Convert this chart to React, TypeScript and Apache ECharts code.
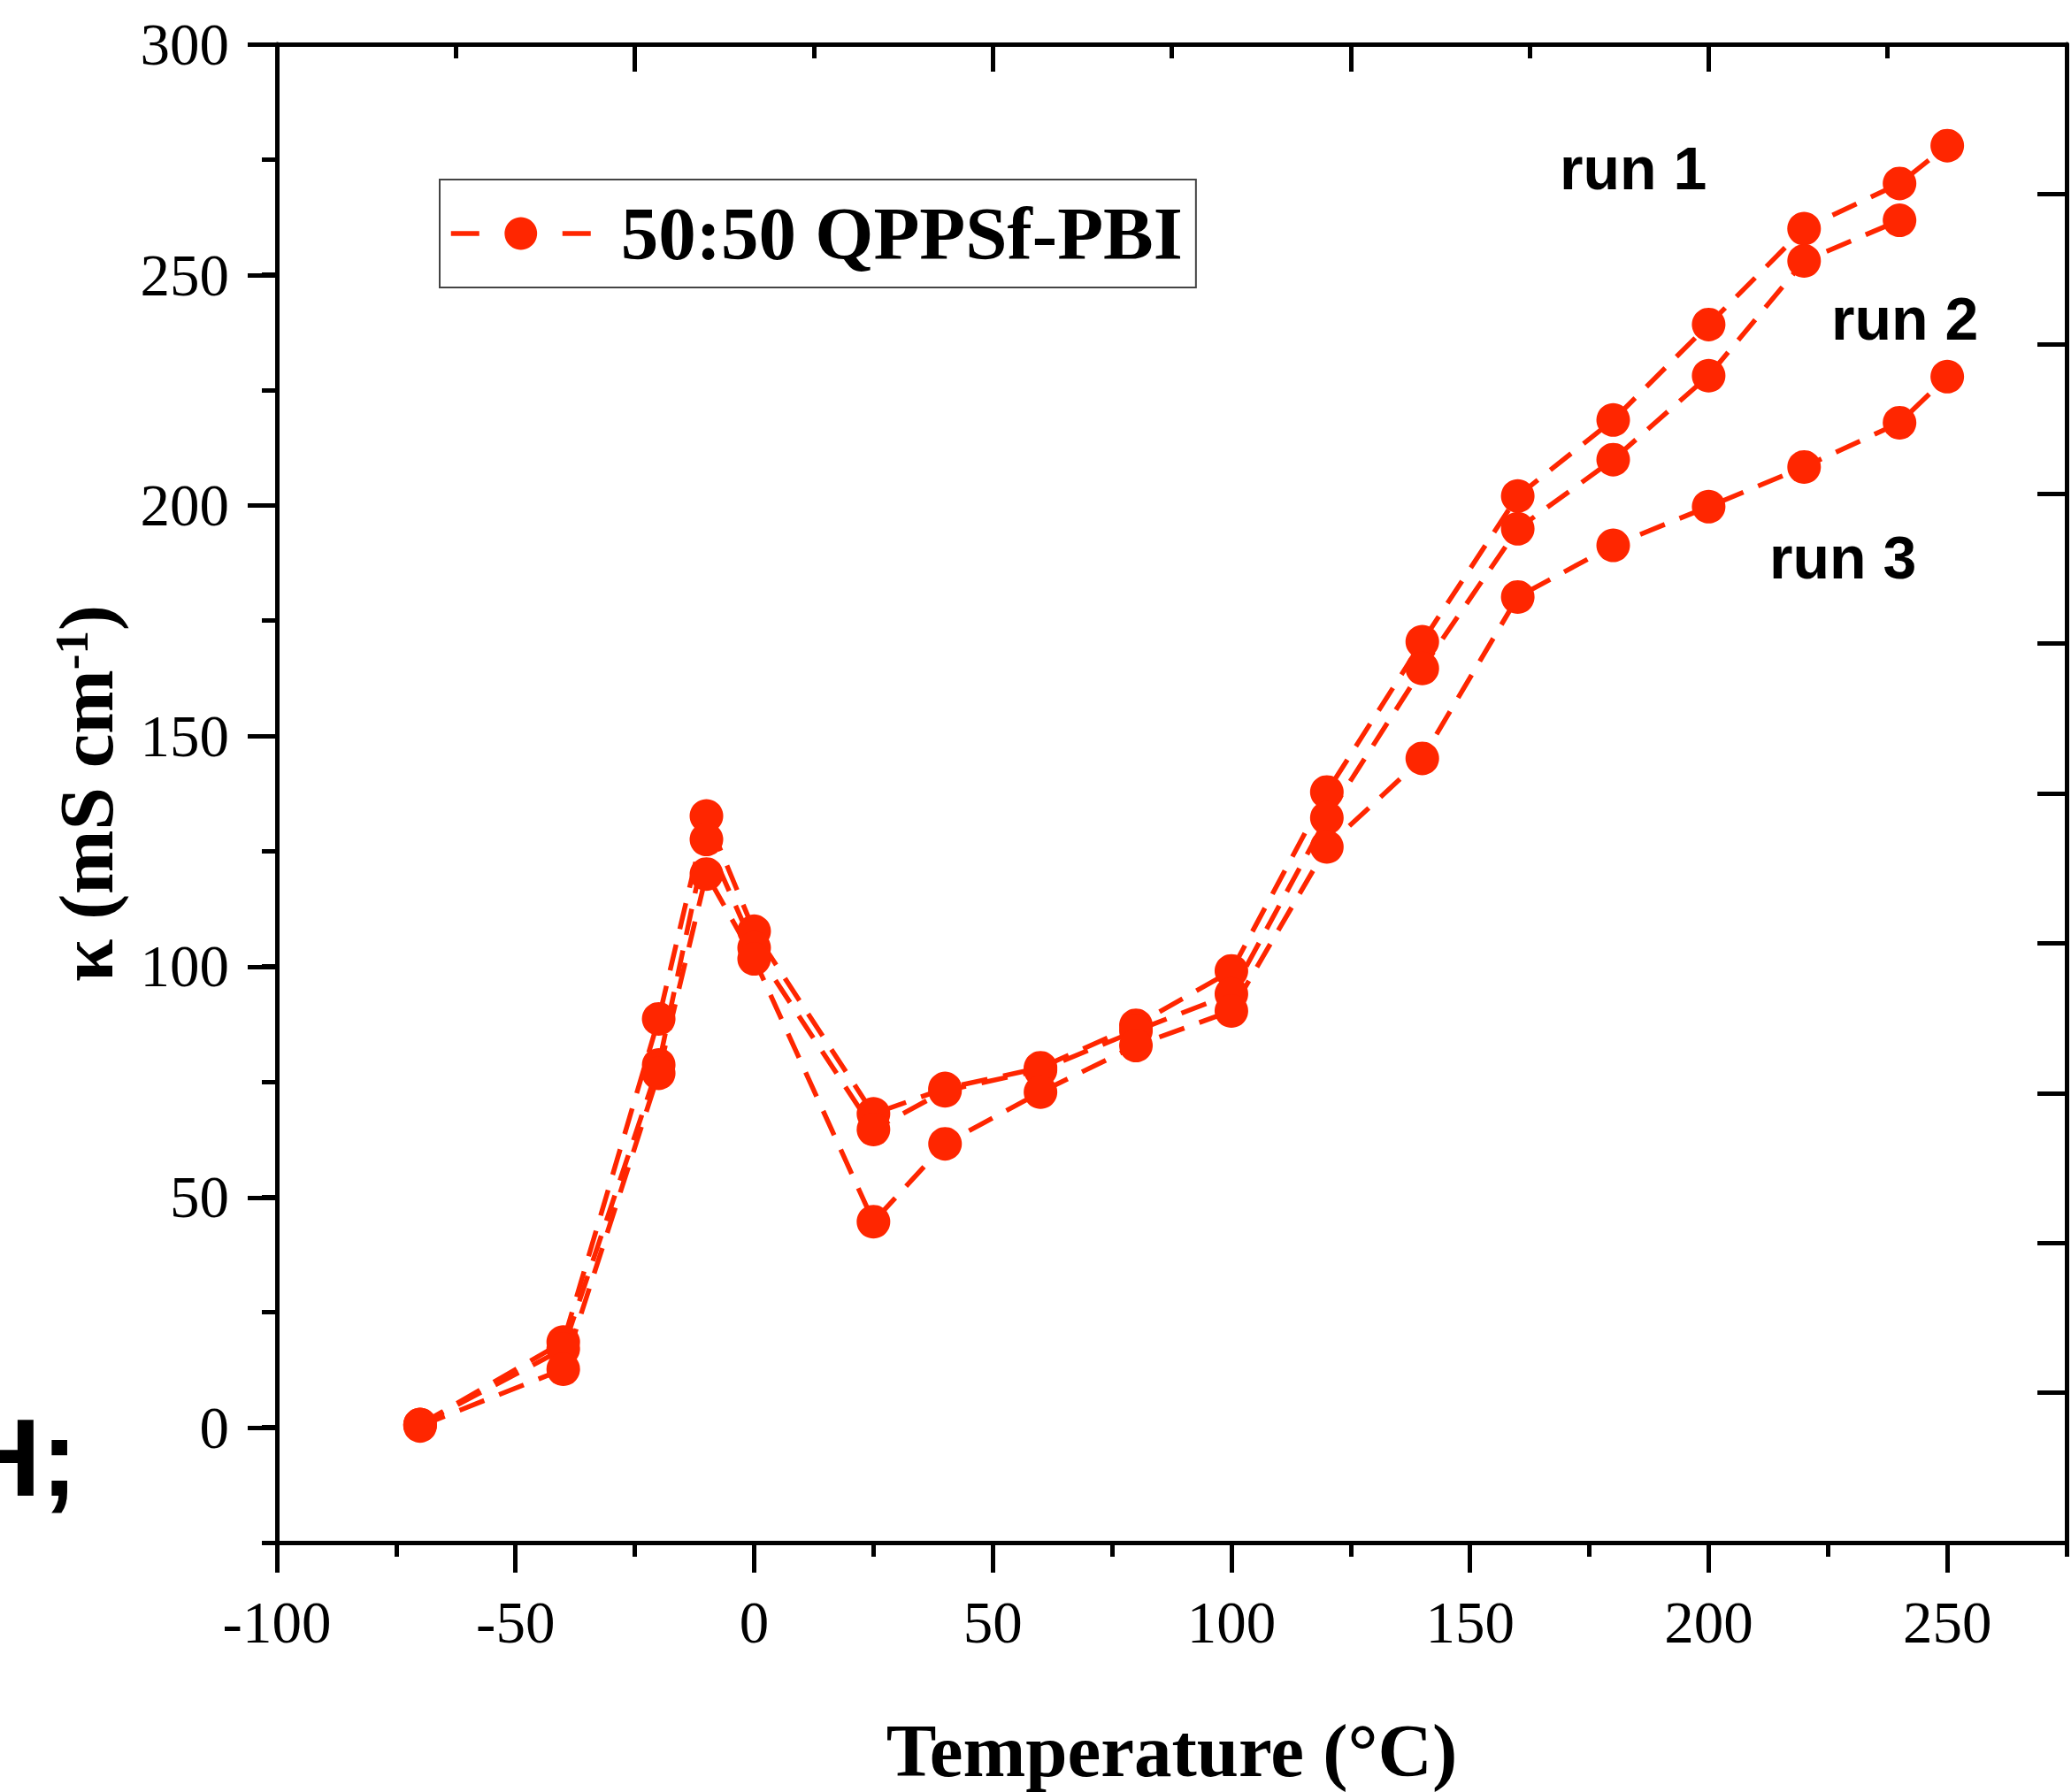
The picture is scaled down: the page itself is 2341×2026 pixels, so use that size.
import React, { useEffect, useRef } from 'react';
import * as echarts from 'echarts';

// ---- data ----
const temperatures = [-70, -40, -20, -10, 0, 25, 40, 60, 80, 100, 120, 140, 160, 180, 200, 220, 240, 250];
const run1 = [0.6, 18.5, 88.6, 132.6, 107.6, 68, 73.5, 78, 87.2, 99, 137.8, 170.4, 202, 218.5, 239.2, 260, 269.8, 278];
const run2 = [0.6, 17, 78.6, 127.5, 104, 64.6, 73, 77.5, 86, 94, 132.2, 164.6, 194.9, 209.9, 228.1, 253, 261.8, null];
const run3 = [0.3, 12.6, 76.8, 120, 101.6, 44.6, 61.5, 72.7, 82.8, 90.3, 125.9, 145.1, 180.1, 191.3, 199.7, 208.3, 217.9, 227.9];
const xTickLabels = [-100, -50, 0, 50, 100, 150, 200, 250];
const yTickLabels = [0, 50, 100, 150, 200, 250, 300];
const seriesName = '50:50 QPPSf-PBI';
const runLabels = ['run 1', 'run 2', 'run 3'];
const sideText = 'H;';

// ---- layout ----
const W = 2341;
const H = 2026;
const L = 313;
const R = 2336;
const T = 50;
const B = 1745;
const X_MIN = -100;
const X_MAX = 275;
const Y_MIN = -25;
const Y_MAX = 300;

const serif = '"Liberation Serif", "Times New Roman", serif';
const sans = '"Liberation Sans", Arial, Helvetica, sans-serif';
const red = '#FF2600';
const black = '#000';

function buildOption() {
  const pxX = (R - L) / (X_MAX - X_MIN);
  const pxY = (B - T) / (Y_MAX - Y_MIN);
  const line = { color: black, width: 5 };

  const runs = [run1, run2, run3];
  const series = runs.map((run) => ({
    type: 'line',
    name: seriesName,
    xAxisIndex: 0,
    yAxisIndex: 0,
    data: temperatures
      .map((t, i) => [t, run[i]])
      .filter((d) => d[1] !== null && d[1] !== undefined),
    symbol: 'circle',
    symbolSize: 38,
    showSymbol: true,
    lineStyle: { color: red, width: 5.5, type: [30, 18] },
    itemStyle: { color: red },
    emphasis: { disabled: true },
    z: 3,
  }));

  const labelPos = [
    { x: 1763, y: 190 },
    { x: 2070, y: 360 },
    { x: 2000, y: 630 },
  ];

  return {
    animation: false,
    backgroundColor: '#fff',
    grid: [
      { left: L, right: W - R, top: T, bottom: H - B },
      { left: L, right: W - (L + (250 - X_MIN) * pxX), top: T, bottom: H - B },
      { left: L, right: W - R, top: T, bottom: H - (B - (0 - Y_MIN) * pxY) },
    ],
    xAxis: [
      {
        gridIndex: 0,
        type: 'value',
        position: 'bottom',
        min: X_MIN,
        max: X_MAX,
        interval: 25,
        axisLine: { show: true, onZero: false, lineStyle: line },
        axisTick: { show: true, inside: false, length: 16, lineStyle: line },
        axisLabel: {
          show: true,
          margin: 56,
          fontSize: 67,
          fontFamily: serif,
          color: black,
          formatter: (v: number) => (xTickLabels.includes(v) ? String(v) : ''),
        },
        splitLine: { show: false },
        name: 'Temperature (°C)',
        nameLocation: 'middle',
        nameGap: 192,
        nameTextStyle: { fontSize: 85, fontWeight: 'bold', fontFamily: serif, color: black },
      },
      {
        gridIndex: 0,
        type: 'value',
        position: 'top',
        min: 0,
        max: 10,
        interval: 2,
        axisLine: { show: true, onZero: false, lineStyle: line },
        axisTick: { show: true, inside: true, length: 31, lineStyle: line },
        minorTick: { show: true, splitNumber: 2, length: 16, lineStyle: line },
        axisLabel: { show: false },
        splitLine: { show: false },
      },
      {
        gridIndex: 1,
        type: 'value',
        position: 'bottom',
        min: X_MIN,
        max: 250,
        interval: 50,
        axisLine: { show: false, onZero: false },
        axisTick: { show: true, inside: false, length: 33, lineStyle: line },
        axisLabel: { show: false },
        splitLine: { show: false },
      },
      { gridIndex: 2, type: 'value', show: false, min: X_MIN, max: X_MAX, axisLine: { onZero: false } },
    ],
    yAxis: [
      {
        gridIndex: 0,
        type: 'value',
        position: 'left',
        min: Y_MIN,
        max: Y_MAX,
        interval: 25,
        axisLine: { show: true, onZero: false, lineStyle: line },
        axisTick: { show: true, inside: false, length: 17, lineStyle: line },
        axisLabel: {
          show: true,
          margin: 54,
          fontSize: 67,
          fontFamily: serif,
          color: black,
          formatter: (v: number) => (yTickLabels.includes(v) ? String(v) : ''),
        },
        splitLine: { show: false },
        name: '{a|κ (mS cm}{s|-1}{a|)}',
        nameLocation: 'middle',
        nameRotate: 90,
        nameGap: 172,
        nameTextStyle: {
          fontSize: 87,
          fontWeight: 'bold',
          fontFamily: serif,
          color: black,
          rich: {
            a: { fontSize: 87, fontWeight: 'bold', fontFamily: serif, color: black, lineHeight: 87 },
            s: { fontSize: 53, fontWeight: 'bold', fontFamily: serif, color: black, lineHeight: 53, verticalAlign: 'top' },
          },
        },
      },
      {
        gridIndex: 0,
        type: 'value',
        position: 'right',
        min: 0,
        max: 10,
        interval: 1,
        axisLine: { show: true, onZero: false, lineStyle: line },
        axisTick: { show: true, inside: true, length: 33, lineStyle: line },
        axisLabel: { show: false },
        splitLine: { show: false },
      },
      { gridIndex: 1, type: 'value', show: false, min: Y_MIN, max: Y_MAX, axisLine: { onZero: false } },
      {
        gridIndex: 2,
        type: 'value',
        position: 'left',
        min: 0,
        max: Y_MAX,
        interval: 50,
        axisLine: { show: false, onZero: false },
        axisTick: { show: true, inside: false, length: 33, lineStyle: line },
        axisLabel: { show: false },
        splitLine: { show: false },
      },
    ],
    legend: {
      show: true,
      data: [seriesName],
      left: 497,
      top: 203,
      orient: 'horizontal',
      itemWidth: 158,
      itemHeight: 46,
      itemGap: 0,
      padding: [17, 15, 17, 10],
      borderColor: '#444',
      borderWidth: 2,
      backgroundColor: '#fff',
      selectedMode: false,
      textStyle: {
        fontSize: 85,
        fontWeight: 'bold',
        fontFamily: serif,
        color: black,
        lineHeight: 88,
        padding: [0, 0, 0, 29],
      },
      lineStyle: { type: [32, 31], width: 5.5, color: red },
      itemStyle: { color: red },
    },
    graphic: [
      ...runLabels.map((t, i) => ({
        type: 'text',
        x: labelPos[i].x,
        y: labelPos[i].y,
        silent: true,
        style: {
          text: t,
          fontSize: 68,
          fontWeight: 'bold',
          fontFamily: sans,
          fill: black,
          align: 'left',
          verticalAlign: 'middle',
          textAlign: 'left',
          textVerticalAlign: 'middle',
        },
      })),
      {
        type: 'text',
        x: 88,
        y: 1647,
        silent: true,
        style: {
          text: sideText,
          fontSize: 125,
          fontWeight: 'bold',
          fontFamily: sans,
          fill: black,
          align: 'right',
          verticalAlign: 'middle',
          textAlign: 'right',
          textVerticalAlign: 'middle',
        },
      },
    ],
    series,
  };
}

export default function App() {
  const ref = useRef<HTMLDivElement>(null);
  useEffect(() => {
    if (!ref.current) return;
    const chart = echarts.init(ref.current, undefined, { renderer: 'svg' });
    chart.setOption(buildOption() as any);
    return () => {
      chart.dispose();
    };
  }, []);
  return (
    <div
      ref={ref}
      style={{ position: 'absolute', left: 0, top: 0, width: W, height: H, background: '#fff' }}
    />
  );
}
